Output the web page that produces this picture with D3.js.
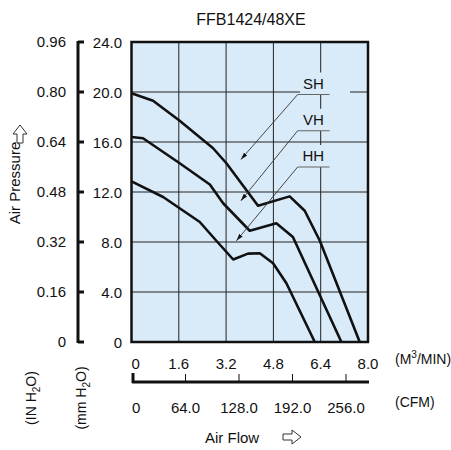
<!DOCTYPE html><html><head><meta charset="utf-8"><script src="https://cdn.jsdelivr.net/npm/d3@7"></script>
<style>body{margin:0;background:#fff}text{font-family:Arial,"Liberation Sans",sans-serif;fill:#111}</style></head><body><svg width="451" height="450"></svg>
<script>
const mmTicks=[0,4,8,12,16,20,24];
const inTicks=["0","0.16","0.32","0.48","0.64","0.80","0.96"];
const m3Ticks=[0,1.6,3.2,4.8,6.4,8.0];
const cfmTicks=["0","64.0","128.0","192.0","256.0"];
const SH=[[0,19.9],[0.73,19.3],[1.63,17.7],[2.76,15.5],[3.21,14.3],[4.28,10.9],[5.35,11.65],[5.86,10.5],[6.37,8.1],[7.72,0]];
const VH=[[0,16.4],[0.39,16.3],[1.63,14.3],[2.65,12.6],[3.1,11.1],[4.0,8.9],[4.9,9.5],[5.46,8.4],[7.1,0]];
const HH=[[0,12.85],[1.07,11.6],[2.31,9.6],[2.87,8.1],[3.44,6.6],[3.94,7.07],[4.34,7.1],[4.79,6.3],[5.24,4.7],[6.2,0]];
const labels=[{n:"SH",y:19.8,px:3.7,py:14.6},{n:"VH",y:16.9,px:3.7,py:11.3},{n:"HH",y:14.0,px:3.55,py:8.1}];
const svg=d3.select("svg");
const x=d3.scaleLinear().domain([0,8]).range([131.5,368]);
const y=d3.scaleLinear().domain([0,24]).range([342,42]);
svg.append("text").attr("x",251).attr("y",25).attr("text-anchor","middle").attr("font-size",16).text("FFB1424/48XE");
svg.append("rect").attr("x",x(0)).attr("y",y(24)).attr("width",x(8)-x(0)).attr("height",y(0)-y(24)).attr("fill","#d9ebf9");
const g=svg.append("g").attr("stroke","#222").attr("stroke-width",1);
m3Ticks.slice(1,-1).forEach(v=>g.append("line").attr("x1",x(v)).attr("x2",x(v)).attr("y1",y(0)).attr("y2",y(24)));
mmTicks.slice(1,-1).forEach(v=>g.append("line").attr("x1",x(0)).attr("x2",x(8)).attr("y1",y(v)).attr("y2",y(v)));
labels.forEach(l=>svg.append("rect").attr("x",300).attr("y",y(l.y)-22).attr("width",50).attr("height",22).attr("fill","#d9ebf9"));
svg.append("rect").attr("x",x(0)).attr("y",y(24)).attr("width",x(8)-x(0)).attr("height",y(0)-y(24)).attr("fill","none").attr("stroke","#111").attr("stroke-width",2.5);
const line=d3.line().x(d=>x(d[0])).y(d=>y(d[1]));
[SH,VH,HH].forEach(s=>svg.append("path").attr("d",line(s)).attr("fill","none").attr("stroke","#111").attr("stroke-width",2.6).attr("stroke-linejoin","round"));
svg.append("defs").append("marker").attr("id","ar").attr("viewBox","0 0 10 10").attr("refX",10).attr("refY",5).attr("markerWidth",8).attr("markerHeight",8).attr("orient","auto-start-reverse").append("path").attr("d","M0,2L10,5L0,8z").attr("fill","#111");
labels.forEach(l=>{
 svg.append("line").attr("x1",x(5.62)).attr("x2",x(6.7)).attr("y1",y(l.y)).attr("y2",y(l.y)).attr("stroke","#666").attr("stroke-width",1.2);
 svg.append("line").attr("x1",x(5.62)).attr("y1",y(l.y)).attr("x2",x(l.px)).attr("y2",y(l.py)).attr("stroke","#333").attr("stroke-width",0.9).attr("marker-end","url(#ar)");
 svg.append("text").attr("x",x(6.15)).attr("y",y(l.y)-6).attr("text-anchor","middle").attr("font-size",15).text(l.n);
});
const ya=svg.append("g").attr("transform","translate(128,0)").call(d3.axisLeft(y).tickValues(mmTicks).tickSize(0).tickPadding(6).tickFormat(d=>d===0?"0":d3.format(".1f")(d)));
ya.select(".domain").remove();ya.selectAll("text").attr("font-size",15).attr("font-family","Arial,'Liberation Sans',sans-serif").attr("dy","0.35em");
const yi=d3.scaleLinear().domain([0,6]).range([342,42]);
svg.append("line").attr("x1",78).attr("x2",78).attr("y1",41).attr("y2",343).attr("stroke","#111").attr("stroke-width",3);
inTicks.forEach((t,i)=>{svg.append("line").attr("x1",78).attr("x2",84).attr("y1",yi(i)).attr("y2",yi(i)).attr("stroke","#111").attr("stroke-width",3);
 svg.append("text").attr("x",66).attr("y",yi(i)+5).attr("text-anchor","end").attr("font-size",15).text(t);});
const xc=d3.scaleLinear().domain([0,4]).range([132,346]);
m3Ticks.forEach(v=>svg.append("text").attr("x",x(v)).attr("y",369).attr("text-anchor",v===0?"start":"middle").attr("font-size",15).text(v===0?"0":v.toFixed(1)));
svg.append("text").attr("x",395).attr("y",364).attr("font-size",14).html('(M<tspan dy="-6" font-size="10">3</tspan><tspan dy="6">/MIN)</tspan>');
svg.append("line").attr("x1",132).attr("x2",369).attr("y1",382).attr("y2",382).attr("stroke","#111").attr("stroke-width",3);
svg.append("line").attr("x1",133).attr("x2",133).attr("y1",373).attr("y2",383).attr("stroke","#111").attr("stroke-width",3);
[1,2,3,4].forEach(i=>svg.append("line").attr("x1",xc(i)).attr("x2",xc(i)).attr("y1",374).attr("y2",382).attr("stroke","#111").attr("stroke-width",1));
cfmTicks.forEach((t,i)=>svg.append("text").attr("x",xc(i)).attr("y",413).attr("text-anchor",i===0?"start":"middle").attr("font-size",15).text(t));
svg.append("text").attr("x",395).attr("y",407).attr("font-size",14).text("(CFM)");
svg.append("text").attr("x",205).attr("y",443).attr("font-size",15).text("Air Flow");
svg.append("path").attr("d","M283,434h9v-4l9,7l-9,7v-4h-9z").attr("fill","none").attr("stroke","#333");
svg.append("text").attr("transform","translate(20,183)rotate(-90)").attr("text-anchor","middle").attr("font-size",15).text("Air Pressure");
svg.append("path").attr("transform","translate(15,143)").attr("d","M2,0v-9h-4l7,-9l7,9h-4v9z").attr("fill","none").attr("stroke","#333");
svg.append("text").attr("transform","translate(36,398)rotate(-90)").attr("text-anchor","middle").attr("font-size",14).html('(IN H<tspan dy="4" font-size="10">2</tspan><tspan dy="-4">O)</tspan>');
svg.append("text").attr("transform","translate(86,398)rotate(-90)").attr("text-anchor","middle").attr("font-size",14).html('(mm H<tspan dy="4" font-size="10">2</tspan><tspan dy="-4">O)</tspan>');
</script></body></html>
